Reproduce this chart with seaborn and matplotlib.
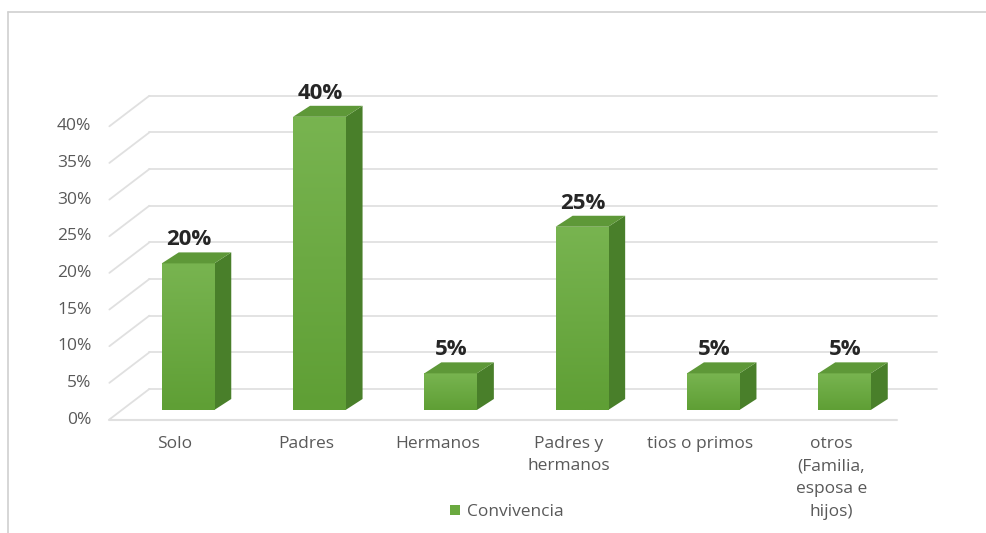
import numpy as np
import pandas as pd
import matplotlib
matplotlib.use("Agg")
import matplotlib.pyplot as plt
from matplotlib.patches import Polygon
from matplotlib.lines import Line2D
from matplotlib.colors import LinearSegmentedColormap
import seaborn as sns

# ---- data ----
categories = ["Solo", "Padres", "Hermanos", "Padres y\nhermanos",
              "tios o primos", "otros\n(Familia,\nesposa e\nhijos)"]
values = [20, 40, 5, 25, 5, 5]
y_ticks = [0, 5, 10, 15, 20, 25, 30, 35, 40]
series_name = "Convivencia"

# ---- style ----
sns.set_theme(style="white")
plt.rcParams["font.family"] = ["Open Sans", "DejaVu Sans"]

W, H, DPI = 987, 533, 100
fig = plt.figure(figsize=(W / DPI, H / DPI), dpi=DPI)
ax = fig.add_axes([0, 0, 1, 1])

# linear pixel scale of the plotting plane
PX_X = 1 / 131.3     # category units per pixel
PX_Y = 1 / 7.33      # percent units per pixel
X0_PX, Y0_PX = 188, 410


def set_frame():
    ax.set_xlim(-X0_PX * PX_X, (W - X0_PX) * PX_X)
    ax.set_ylim(-(H - Y0_PX) * PX_Y, Y0_PX * PX_Y)
    ax.axis("off")


set_frame()

# oblique depth offsets (relative to the bar front plane)
bar_dx, bar_dy = 17 * PX_X, 11 * PX_Y       # bar depth
fr_dx, fr_dy = -13 * PX_X, -9.5 * PX_Y      # front edge of the floor
bw_dx, bw_dy = 27 * PX_X, 21 * PX_Y         # back wall

grid_c = "#e0e0e0"
txt_c = "#595959"
front_c = "#6aa93f"
side_c = "#497f2a"
top_c = "#5e9838"

x_left, x_right = -0.5, len(categories) - 0.5

# back wall gridlines and side wall diagonals
for v in y_ticks:
    ax.add_line(Line2D([x_left + bw_dx, x_right + bw_dx], [v + bw_dy, v + bw_dy],
                       color=grid_c, lw=1.3, zorder=1))
    ax.add_line(Line2D([x_left + fr_dx, x_left + bw_dx], [v + fr_dy, v + bw_dy],
                       color=grid_c, lw=1.3, zorder=1))
# front floor edge
ax.add_line(Line2D([x_left + fr_dx, x_right + fr_dx], [fr_dy, fr_dy],
                   color=grid_c, lw=1.5, zorder=1))

# bars (front faces)
df = pd.DataFrame({"cat": categories, "val": values})
sns.barplot(data=df, x="cat", y="val", color=front_c, width=0.4,
            saturation=1, ax=ax, zorder=3, label=series_name)
set_frame()

grad = LinearSegmentedColormap.from_list("g", ["#5f9f35", "#78b450"])
bars = [p for p in ax.patches]
for p, v in zip(bars, values):
    x0 = p.get_x()
    x1 = x0 + p.get_width()
    h = p.get_height()
    p.set_edgecolor("none")
    # vertical gradient on front face
    img = ax.imshow(np.linspace(0, 1, 64).reshape(-1, 1), cmap=grad,
                    extent=[x0, x1, 0, h], origin="lower", aspect="auto",
                    zorder=3.1, interpolation="bilinear")
    img.set_clip_path(p)
    # side face
    ax.add_patch(Polygon([(x1, 0), (x1 + bar_dx, bar_dy), (x1 + bar_dx, h + bar_dy), (x1, h)],
                         closed=True, facecolor=side_c, edgecolor="none", zorder=2.9))
    # top face
    ax.add_patch(Polygon([(x0, h), (x0 + bar_dx, h + bar_dy), (x1 + bar_dx, h + bar_dy), (x1, h)],
                         closed=True, facecolor=top_c, edgecolor="none", zorder=3.2))
    # value label
    ax.annotate(f"{v}%", ((x0 + x1) / 2 + 1 * PX_X, h + bar_dy), xytext=(0, 2),
                textcoords="offset pixels", ha="center", va="bottom",
                fontsize=16, fontweight="bold", color="#262626", zorder=5)

# y tick labels on the front edge
for v in y_ticks:
    ax.annotate(f"{v}%", (x_left + fr_dx, v + fr_dy), xytext=(-18, 0),
                textcoords="offset pixels", ha="right", va="center",
                fontsize=12.5, color=txt_c)

# category labels
for i, c in enumerate(categories):
    ax.annotate(c, (i + fr_dx, fr_dy), xytext=(0, -16),
                textcoords="offset pixels", ha="center", va="top",
                fontsize=12.5, color=txt_c, linespacing=1.58)

# legend
leg = ax.legend(loc="center", bbox_to_anchor=(507 / W, 21 / H),
                bbox_transform=fig.transFigure, frameon=False,
                handlelength=0.55, handleheight=0.55, handletextpad=0.4,
                fontsize=12.5)
for t in leg.get_texts():
    t.set_color(txt_c)

# chart border
fig.add_artist(Line2D([8 / W, 8 / W], [0, 1 - 12 / H], transform=fig.transFigure,
                      color="#d0d0d0", lw=1.2))
fig.add_artist(Line2D([8 / W, 1], [1 - 12 / H, 1 - 12 / H], transform=fig.transFigure,
                      color="#d0d0d0", lw=1.2))

fig.savefig("out.png", dpi=DPI, facecolor="white")
